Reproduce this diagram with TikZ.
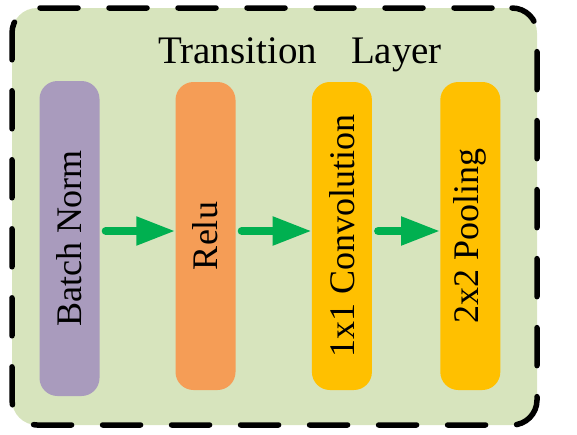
\documentclass[tikz,border=0pt]{standalone}
\usepackage{fontspec}
\setmainfont{Liberation Serif}
\usetikzlibrary{arrows.meta, positioning}
\definecolor{layergreen}{HTML}{D7E4BD}
\definecolor{bnpurple}{HTML}{A99BBD}
\definecolor{reluorange}{HTML}{F59D56}
\definecolor{convyellow}{HTML}{FFC000}
\definecolor{arrowgreen}{HTML}{00B050}
\tikzset{
  frame/.style={draw=black, fill=layergreen, line width=5.5pt, line cap=round,
    dash pattern=on 38pt off 31pt, dash phase=-20pt, rounded corners=25pt,
    minimum width=525pt, minimum height=417pt},
  stage/.style={fill=#1, rounded corners=18pt, minimum width=60pt, minimum height=308pt,
    inner sep=0pt, font=\fontsize{36}{36}\selectfont},
  arr/.style={-{Triangle[length=39pt, width=27pt]}, line width=8pt, draw=arrowgreen,
    line cap=round, shorten <=6pt},
}
\newcommand{\vlabel}[1]{\rotatebox{90}{#1}}

\begin{document}
\begin{tikzpicture}[x=1pt, y=1pt]
  \useasboundingbox (0,0) rectangle (577,-434);
  \node[frame] (layer) at (274.5,-216.5) {};
  \node[anchor=base, font=\fontsize{39}{39}\selectfont] (title) at (300,-63)
    {Transition\hspace*{34pt}Layer};
  \node[stage=bnpurple, minimum height=315pt] (bn) at (69.5,-238.5) {\vlabel{Batch Norm}};
  \node[stage=reluorange] (relu) at (205.5,-236) {\vlabel{Relu}};
  \node[stage=convyellow, right=76pt of relu] (conv) {\vlabel{1x1 Convolution}};
  \node[stage=convyellow, right=68pt of conv] (pool) {\vlabel{2x2 Pooling}};
  \draw[arr] ([yshift=5pt]relu.west -| bn.east) -- ([yshift=5pt]relu.west);
  \draw[arr] ([yshift=5pt]relu.east) -- ([yshift=5pt]conv.west);
  \draw[arr] ([yshift=5pt]conv.east) -- ([yshift=5pt]pool.west);
\end{tikzpicture}
\end{document}
